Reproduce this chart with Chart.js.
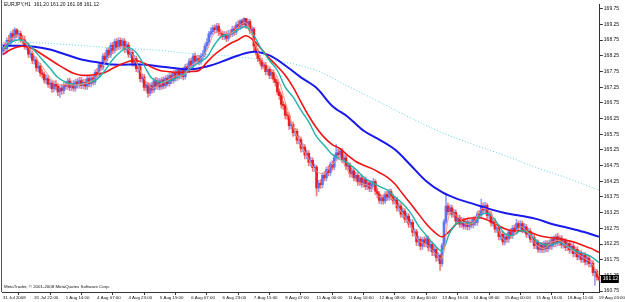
<!DOCTYPE html>
<html><head><meta charset="utf-8">
<script src="https://cdn.jsdelivr.net/npm/chart.js@4.4.1/dist/chart.umd.min.js"></script>
<style>html,body{margin:0;padding:0;background:#fff;overflow:hidden}canvas{display:block}</style>
</head><body>
<canvas id="c" width="625" height="302"></canvas>
<script>
const symbolText = "EURJPY,H1  161.20 161.20 161.08 161.12";
const copyrightText = "MetaTrader, \u00A9 2001-2008 MetaQuotes Software Corp.";
const yTicks = [169.75,169.25,168.75,168.25,167.75,167.25,166.75,166.25,165.75,165.25,164.75,164.25,163.75,163.25,162.75,162.25,161.75,161.25,160.75];
const xTickLabels = ["31 Jul 2008","31 Jul 22:00","1 Aug 14:00","4 Aug 07:00","4 Aug 23:00","5 Aug 15:00","6 Aug 07:00","6 Aug 23:00","7 Aug 15:00","8 Aug 07:00","11 Aug 00:00","11 Aug 16:00","12 Aug 08:00","13 Aug 00:00","13 Aug 16:00","14 Aug 08:00","15 Aug 00:00","15 Aug 16:00","18 Aug 11:00","19 Aug 03:00"];
const barsPerXTick = 16;

const open = [
168.40,168.52,168.48,168.74,168.70,168.96,168.84,169.08,168.94,168.96,
168.78,168.76,168.56,168.58,168.30,168.32,168.10,168.12,167.86,167.92,
167.70,167.66,167.48,167.52,167.34,167.38,167.20,167.34,167.28,167.10,
167.22,167.14,167.30,167.28,167.44,167.24,167.36,167.22,167.42,167.32,
167.46,167.30,167.40,167.28,167.52,167.36,167.54,167.42,167.72,167.64,
167.96,167.88,168.24,168.12,168.42,168.28,168.58,168.42,168.70,168.52,
168.74,168.56,168.72,168.46,168.60,168.30,168.36,168.02,168.16,167.84,
167.90,167.52,167.58,167.24,167.32,167.06,167.30,167.16,167.46,167.28,
167.44,167.26,167.48,167.30,167.54,167.36,167.62,167.46,167.70,167.54,
167.78,167.60,167.78,167.58,167.90,167.80,168.08,167.94,168.24,168.08,
168.16,168.06,168.24,168.30,168.56,168.68,168.94,169.02,169.14,169.08,
169.20,169.00,168.96,168.86,168.92,168.80,168.96,168.94,169.10,169.00,
169.24,169.16,169.36,169.24,169.44,169.22,169.34,169.04,169.10,168.56,
168.40,168.16,168.10,167.92,167.96,167.74,167.82,167.62,167.72,167.50,
167.40,167.10,166.98,166.70,166.66,166.36,166.34,166.02,166.06,165.80,
165.84,165.56,165.58,165.30,165.34,165.08,165.14,164.86,164.92,164.68,
164.70,164.04,164.18,164.14,164.44,164.36,164.62,164.52,164.78,164.70,
165.00,165.16,165.10,165.22,164.94,165.00,164.72,164.76,164.48,164.58,
164.36,164.44,164.22,164.36,164.16,164.30,164.08,164.20,164.02,164.16,
164.24,163.92,163.84,163.64,163.72,163.62,163.84,163.74,163.92,163.76,
163.62,163.66,163.40,163.46,163.20,163.30,163.04,163.14,162.88,162.94,
162.62,162.64,162.32,162.40,162.18,162.38,162.26,162.42,162.14,162.24,
162.00,162.08,161.82,161.88,161.62,162.20,162.96,163.46,163.28,163.40,
163.20,163.26,162.98,163.08,162.88,163.00,162.82,162.96,162.80,162.94,
162.86,163.04,162.94,163.20,163.18,163.46,163.34,163.48,163.16,163.20,
162.92,162.98,162.72,162.78,162.48,162.56,162.32,162.48,162.40,162.64,
162.52,162.76,162.66,162.90,162.76,162.90,162.70,162.80,162.56,162.66,
162.40,162.46,162.20,162.30,162.08,162.22,162.08,162.26,162.10,162.28,
162.18,162.40,162.26,162.48,162.30,162.44,162.22,162.34,162.14,162.26,
162.06,162.18,161.94,162.08,161.84,161.96,161.76,161.90,161.68,161.80,
161.62,161.64,161.34,161.38,161.20];
const high = [
168.62,168.66,168.82,168.90,169.02,169.08,169.14,169.12,169.06,169.04,
168.90,168.88,168.70,168.66,168.44,168.40,168.24,168.20,168.04,168.02,
167.82,167.74,167.64,167.62,167.50,167.46,167.44,167.46,167.36,167.30,
167.32,167.40,167.42,167.52,167.54,167.44,167.46,167.50,167.52,167.56,
167.56,167.50,167.50,167.60,167.62,167.62,167.64,167.80,167.84,168.04,
168.06,168.32,168.34,168.50,168.52,168.66,168.68,168.78,168.80,168.83,
168.82,168.80,168.80,168.70,168.68,168.46,168.44,168.26,168.24,168.00,
167.98,167.68,167.66,167.42,167.40,167.38,167.40,167.54,167.56,167.54,
167.52,167.56,167.58,167.62,167.64,167.70,167.72,167.78,167.80,167.86,
167.86,167.86,167.88,167.98,168.00,168.16,168.18,168.32,168.34,168.26,
168.26,168.32,168.42,168.64,168.80,169.02,169.14,169.22,169.24,169.28,
169.28,169.10,169.04,169.02,169.02,169.06,169.08,169.20,169.20,169.32,
169.36,169.40,169.42,169.46,169.44,169.42,169.40,169.20,169.16,168.64,
168.48,168.26,168.18,168.06,168.04,167.90,167.90,167.80,167.80,167.58,
167.48,167.20,167.06,166.80,166.74,166.46,166.42,166.16,166.14,165.94,
165.92,165.70,165.66,165.44,165.42,165.24,165.22,165.02,165.00,164.80,
164.76,164.28,164.30,164.52,164.56,164.70,164.74,164.86,164.90,165.10,
165.42,165.28,165.30,165.30,165.10,165.08,164.86,164.84,164.68,164.66,
164.54,164.52,164.44,164.46,164.40,164.38,164.30,164.28,164.26,164.34,
164.30,164.02,163.92,163.80,163.82,163.92,163.94,164.00,164.00,163.84,
163.76,163.74,163.56,163.54,163.40,163.38,163.24,163.22,163.04,163.02,
162.74,162.72,162.50,162.48,162.46,162.48,162.50,162.50,162.34,162.32,
162.18,162.16,161.98,161.94,162.28,163.04,163.84,163.56,163.50,163.48,
163.36,163.34,163.18,163.16,163.10,163.08,163.04,163.04,163.02,163.04,
163.12,163.14,163.28,163.32,163.68,163.56,163.58,163.54,163.30,163.28,
163.08,163.06,162.88,162.86,162.66,162.64,162.56,162.58,162.72,162.74,
162.84,162.86,163.04,162.98,163.00,162.98,162.90,162.88,162.76,162.74,
162.56,162.54,162.40,162.38,162.30,162.30,162.34,162.36,162.36,162.38,
162.48,162.50,162.56,162.58,162.52,162.52,162.42,162.42,162.34,162.34,
162.26,162.26,162.16,162.16,162.04,162.04,161.98,161.98,161.88,161.88,
161.74,161.72,161.46,161.44,161.20];
const low = [
168.28,168.40,168.38,168.60,168.58,168.70,168.76,168.82,168.80,168.68,
168.62,168.46,168.44,168.20,168.18,168.00,167.98,167.76,167.74,167.60,
167.54,167.38,167.36,167.24,167.22,167.08,167.10,167.16,166.98,166.92,
167.02,167.04,167.18,167.18,167.14,167.14,167.12,167.12,167.22,167.22,
167.20,167.20,167.18,167.18,167.26,167.26,167.32,167.34,167.54,167.56,
167.78,167.80,168.02,168.04,168.18,168.20,168.32,168.34,168.42,168.44,
168.46,168.46,168.36,168.36,168.20,168.20,167.92,167.92,167.74,167.72,
167.42,167.40,167.14,167.12,166.93,166.98,167.06,167.08,167.18,167.18,
167.16,167.18,167.20,167.22,167.28,167.28,167.36,167.38,167.44,167.46,
167.50,167.52,167.48,167.50,167.70,167.72,167.84,167.86,167.98,168.00,
167.96,167.98,168.14,168.22,168.46,168.60,168.84,168.92,168.98,168.98,
168.90,168.84,168.76,168.76,168.70,168.72,168.84,168.86,168.90,168.92,
169.06,169.08,169.14,169.16,169.12,169.14,168.96,168.96,168.40,168.28,
168.06,167.98,167.82,167.84,167.64,167.64,167.52,167.52,167.40,167.28,
167.00,166.86,166.58,166.54,166.24,166.22,165.90,165.92,165.68,165.70,
165.44,165.44,165.18,165.20,164.96,164.96,164.74,164.74,164.56,164.56,
163.78,163.92,164.02,164.04,164.26,164.26,164.42,164.42,164.60,164.62,
164.90,165.00,165.00,164.84,164.84,164.62,164.62,164.38,164.38,164.26,
164.26,164.12,164.12,164.06,164.06,163.98,163.98,163.92,163.92,164.06,
163.82,163.72,163.54,163.52,163.52,163.54,163.64,163.64,163.66,163.52,
163.52,163.30,163.30,163.10,163.10,162.94,162.94,162.78,162.78,162.50,
162.50,162.20,162.20,162.06,162.08,162.16,162.16,162.02,162.02,161.88,
161.88,161.70,161.70,161.41,161.54,162.12,162.88,163.18,163.18,163.10,
163.10,162.88,162.88,162.78,162.78,162.72,162.72,162.70,162.70,162.76,
162.76,162.84,162.84,163.08,163.08,163.24,163.24,163.06,163.04,162.82,
162.82,162.62,162.62,162.38,162.38,162.22,162.22,162.30,162.30,162.42,
162.42,162.56,162.56,162.66,162.66,162.60,162.60,162.46,162.46,162.30,
162.30,162.10,162.10,161.98,161.98,161.98,161.98,162.00,162.00,162.08,
162.08,162.16,162.16,162.20,162.20,162.12,162.12,162.04,162.04,161.96,
161.96,161.84,161.84,161.74,161.74,161.66,161.66,161.58,161.58,161.52,
161.52,161.24,160.94,161.10,161.08];
const close = [
168.52,168.48,168.74,168.70,168.96,168.84,169.08,168.94,168.96,168.78,
168.76,168.56,168.58,168.30,168.32,168.10,168.12,167.86,167.92,167.70,
167.66,167.48,167.52,167.34,167.38,167.20,167.34,167.28,167.10,167.22,
167.14,167.30,167.28,167.44,167.24,167.36,167.22,167.42,167.32,167.46,
167.30,167.40,167.28,167.52,167.36,167.54,167.42,167.72,167.64,167.96,
167.88,168.24,168.12,168.42,168.28,168.58,168.42,168.70,168.52,168.74,
168.56,168.72,168.46,168.60,168.30,168.36,168.02,168.16,167.84,167.90,
167.52,167.58,167.24,167.32,167.06,167.30,167.16,167.46,167.28,167.44,
167.26,167.48,167.30,167.54,167.36,167.62,167.46,167.70,167.54,167.78,
167.60,167.78,167.58,167.90,167.80,168.08,167.94,168.24,168.08,168.16,
168.06,168.24,168.30,168.56,168.68,168.94,169.02,169.14,169.08,169.20,
169.00,168.96,168.86,168.92,168.80,168.96,168.94,169.10,169.00,169.24,
169.16,169.36,169.24,169.44,169.22,169.34,169.04,169.10,168.56,168.40,
168.16,168.10,167.92,167.96,167.74,167.82,167.62,167.72,167.50,167.40,
167.10,166.98,166.70,166.66,166.36,166.34,166.02,166.06,165.80,165.84,
165.56,165.58,165.30,165.34,165.08,165.14,164.86,164.92,164.68,164.70,
164.04,164.18,164.14,164.44,164.36,164.62,164.52,164.78,164.70,165.00,
165.16,165.10,165.22,164.94,165.00,164.72,164.76,164.48,164.58,164.36,
164.44,164.22,164.36,164.16,164.30,164.08,164.20,164.02,164.16,164.24,
163.92,163.84,163.64,163.72,163.62,163.84,163.74,163.92,163.76,163.62,
163.66,163.40,163.46,163.20,163.30,163.04,163.14,162.88,162.94,162.62,
162.64,162.32,162.40,162.18,162.38,162.26,162.42,162.14,162.24,162.00,
162.08,161.82,161.88,161.62,162.20,162.96,163.46,163.28,163.40,163.20,
163.26,162.98,163.08,162.88,163.00,162.82,162.96,162.80,162.94,162.86,
163.04,162.94,163.20,163.18,163.46,163.34,163.48,163.16,163.20,162.92,
162.98,162.72,162.78,162.48,162.56,162.32,162.48,162.40,162.64,162.52,
162.76,162.66,162.90,162.76,162.90,162.70,162.80,162.56,162.66,162.40,
162.46,162.20,162.30,162.08,162.22,162.08,162.26,162.10,162.28,162.18,
162.40,162.26,162.48,162.30,162.44,162.22,162.34,162.14,162.26,162.06,
162.18,161.94,162.08,161.84,161.96,161.76,161.90,161.68,161.80,161.62,
161.64,161.34,161.38,161.20,161.12];

// moving-average lines, one value every maStep bars
const maStep = 4;
const maFast = [168.48,168.79,168.89,168.61,168.26,167.91,167.56,167.34,167.34,167.31,167.34,167.41,167.60,168.04,168.38,168.54,168.45,168.04,167.53,167.22,167.34,167.47,167.60,167.63,167.94,168.10,168.42,168.98,168.98,168.95,169.17,169.30,168.73,168.10,167.88,167.56,166.78,165.99,165.42,164.95,164.57,164.50,164.79,164.95,164.57,164.25,164.16,164.06,163.75,163.87,163.56,163.21,162.83,162.36,162.23,161.98,161.79,163.24,163.12,162.89,162.93,163.37,163.30,162.80,162.36,162.48,162.80,162.61,162.23,162.11,162.30,162.36,162.17,161.98,161.82,161.66,161.25];
const maMid = [168.45,168.67,168.76,168.67,168.42,168.13,167.85,167.56,167.41,167.34,167.34,167.41,167.50,167.78,168.13,168.38,168.51,168.35,167.94,167.53,167.41,167.44,167.53,167.66,167.85,168.04,168.20,168.61,168.89,168.95,169.08,169.17,168.89,168.45,168.10,167.78,167.25,166.93,166.52,166.14,165.67,165.39,165.10,164.95,164.82,164.63,164.38,164.22,164.09,163.97,163.75,163.53,163.24,162.83,162.52,162.23,162.04,162.61,162.93,162.93,162.93,163.18,163.21,162.93,162.58,162.52,162.67,162.61,162.36,162.23,162.23,162.30,162.17,162.04,161.95,161.85,161.66];
const maSlow = [168.29,168.45,168.54,168.54,168.45,168.29,168.13,167.97,167.82,167.69,167.63,167.63,167.66,167.72,167.85,167.97,168.07,168.10,168.01,167.88,167.78,167.75,167.72,167.72,167.75,167.78,168.04,168.29,168.48,168.64,168.76,168.89,168.73,168.45,168.16,167.91,167.63,167.25,166.78,166.33,165.95,165.64,165.42,165.29,165.07,164.88,164.76,164.66,164.53,164.38,164.16,163.84,163.53,163.21,162.89,162.64,162.48,162.67,162.93,163.05,163.08,163.08,162.99,162.86,162.74,162.67,162.67,162.64,162.55,162.48,162.45,162.42,162.36,162.30,162.20,162.11,161.98];
const blueStep = 8;
const maBlue = [168.57,168.57,168.54,168.45,168.29,168.13,168.04,167.97,167.97,167.97,167.91,167.85,167.82,167.91,168.07,168.26,168.38,168.26,167.94,167.56,167.22,166.65,166.30,165.86,165.58,165.26,164.76,164.25,163.90,163.68,163.53,163.37,163.24,163.15,163.05,162.89,162.77,162.64,162.48];
const dotStep = 16;
const maDotted = [168.67,168.67,168.61,168.54,168.48,168.42,168.32,168.26,168.16,168.04,167.78,167.28,166.78,166.27,165.80,165.42,165.07,164.69,164.35,163.97];

const N = close.length;
const barIdx = close.map((_, i) => i);
const place = (vals, step) => { const a = new Array(N).fill(null); vals.forEach((v, k) => { a[k * step] = v; }); return a; };
const isUp = barIdx.map(i => close[i] >= open[i]);
const lastPrice = close[N - 1];

const lineDs = (label, vals, step, color, width, dash, order) => ({
  type: 'line', label, data: place(vals, step), borderColor: color, borderWidth: width,
  borderDash: dash || [], pointRadius: 0, spanGaps: true, tension: 0.35, fill: false, order
});

const overlay = {
  id: 'overlay',
  afterDraw(chart) {
    const ctx = chart.ctx, a = chart.chartArea;
    ctx.save();
    ctx.strokeStyle = '#555'; ctx.lineWidth = 1;
    ctx.beginPath(); ctx.moveTo(a.left - 0.5, a.bottom); ctx.lineTo(a.left - 0.5, 0); ctx.stroke();
    ctx.fillStyle = '#111'; ctx.textBaseline = 'middle'; ctx.textAlign = 'left';
    ctx.font = '5px "Liberation Sans", Arial, sans-serif';
    ctx.fillText(symbolText, a.left + 2, 5);
    ctx.font = '4.4px "Liberation Sans", Arial, sans-serif';
    ctx.fillText(copyrightText, a.left + 2, a.bottom - 5);
    const y = Math.round(chart.scales.y.getPixelForValue(lastPrice));
    ctx.font = '5px "Liberation Sans", Arial, sans-serif';
    ctx.fillStyle = '#000'; ctx.fillRect(a.right + 1, y - 4, 18, 8);
    ctx.fillStyle = '#fff'; ctx.fillText(lastPrice.toFixed(2), a.right + 3, y);
    ctx.restore();
  }
};

new Chart(document.getElementById('c'), {
  data: {
    labels: barIdx,
    datasets: [
      lineDs('MA200', maDotted, dotStep, 'rgb(90,215,230)', 1, [1, 2], 5),
      lineDs('MA55', maBlue, blueStep, 'rgb(25,25,235)', 2, null, 4),
      lineDs('MA21', maSlow, maStep, 'rgb(240,20,20)', 1.6, null, 3),
      lineDs('MA8', maMid, maStep, 'rgb(32,178,170)', 1.4, null, 2),
      lineDs('MA5', maFast, maStep, 'rgb(250,150,130)', 1, null, 1),
      { type: 'bar', label: 'body', data: barIdx.map(i => [open[i], close[i]]), grouped: false, barThickness: 2,
        backgroundColor: isUp.map(u => u ? 'rgb(95,115,240)' : 'rgb(235,30,30)'), order: 8 },
      { type: 'bar', label: 'range', data: barIdx.map(i => [low[i], high[i]]), grouped: false, barThickness: 1,
        backgroundColor: isUp.map(u => u ? 'rgb(150,160,245)' : 'rgb(245,120,120)'), order: 9 }
    ]
  },
  options: {
    responsive: false, animation: false, devicePixelRatio: 1,
    layout: { padding: { left: 2, top: 1, right: 0, bottom: 0 } },
    plugins: { legend: { display: false }, tooltip: { enabled: false } },
    scales: {
      x: {
        type: 'category', offset: true,
        grid: { drawOnChartArea: false, drawTicks: true, tickLength: 3, color: '#333' },
        border: { display: true, color: '#333' },
        afterBuildTicks: s => { s.ticks = xTickLabels.map((_, k) => ({ value: k * barsPerXTick })); },
        afterFit: s => { s.height = 10; },
        ticks: { autoSkip: false, maxRotation: 0, minRotation: 0, align: 'start', padding: 0, color: '#111',
          font: { family: '"Liberation Sans", Arial, sans-serif', size: 4.4 },
          callback: (v, idx) => xTickLabels[idx] }
      },
      y: {
        position: 'right', min: 160.72, max: 169.90,
        grid: { drawOnChartArea: false, drawTicks: true, tickLength: 3, color: '#333' },
        border: { display: true, color: '#333' },
        afterBuildTicks: s => { s.ticks = yTicks.map(v => ({ value: v })); },
        afterFit: s => { s.width = 21; },
        ticks: { padding: 1, color: '#111', font: { family: '"Liberation Sans", Arial, sans-serif', size: 5 },
          callback: v => v.toFixed(2) }
      }
    }
  },
  plugins: [overlay]
});
</script>
</body></html>
